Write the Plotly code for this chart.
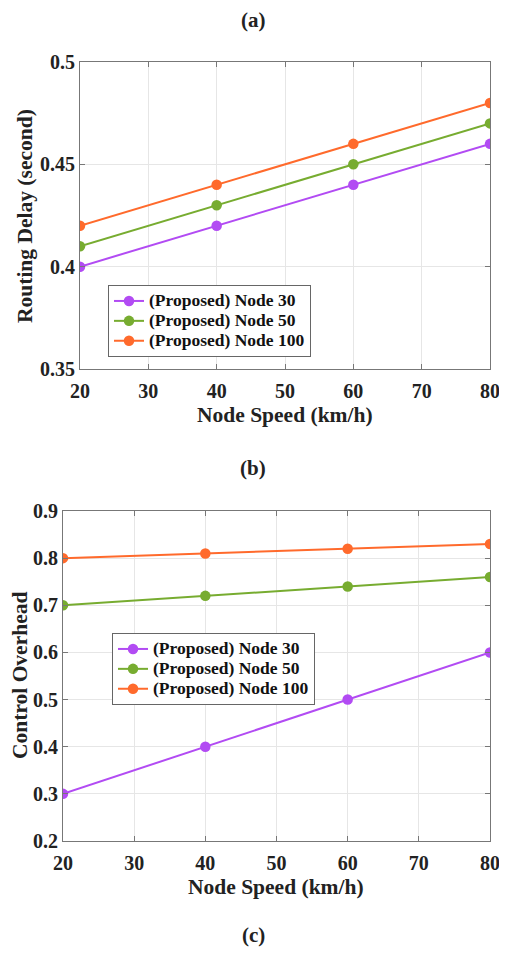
import plotly.graph_objects as go

speed = [20, 40, 60, 80]
series_names = ["(Proposed) Node 30", "(Proposed) Node 50", "(Proposed) Node 100"]
delay_node30 = [0.40, 0.42, 0.44, 0.46]
delay_node50 = [0.41, 0.43, 0.45, 0.47]
delay_node100 = [0.42, 0.44, 0.46, 0.48]
overhead_node30 = [0.30, 0.40, 0.50, 0.60]
overhead_node50 = [0.70, 0.72, 0.74, 0.76]
overhead_node100 = [0.80, 0.81, 0.82, 0.83]
x_ticks = [20, 30, 40, 50, 60, 70, 80]
delay_ticks = [0.35, 0.4, 0.45, 0.5]
overhead_ticks = [0.2, 0.3, 0.4, 0.5, 0.6, 0.7, 0.8, 0.9]

colors = ["#B24BF3", "#77AC30", "#FF6A2C"]
FONT = "Times New Roman, Liberation Serif, serif"
# page body has an 8px margin, so the figure is 16px smaller than the window
OFF = 8
W, H = 507 - 2 * OFF, 955 - 2 * OFF


def legend_label(name):
    return '<span style="font-size:17.5px">' + name + '</span>'


fig = go.Figure()
for vals, name, c in zip([delay_node30, delay_node50, delay_node100], series_names, colors):
    fig.add_trace(go.Scatter(x=speed, y=vals, name=legend_label(name), mode="lines+markers",
                             line=dict(color=c, width=2), marker=dict(color=c, size=10.5),
                             xaxis="x", yaxis="y", legend="legend"))
for vals, name, c in zip([overhead_node30, overhead_node50, overhead_node100], series_names, colors):
    fig.add_trace(go.Scatter(x=speed, y=vals, name=legend_label(name), mode="lines+markers",
                             line=dict(color=c, width=2), marker=dict(color=c, size=10.5),
                             xaxis="x2", yaxis="y2", legend="legend2"))

def px_x(p):
    return (p - OFF) / W

def px_y(p):
    return 1 - (p - OFF) / H

axis_common = dict(showline=True, linecolor="#777777", linewidth=1, mirror="ticks",
                   ticks="inside", ticklen=5, tickcolor="#777777", automargin=False,
                   showgrid=True, gridcolor="#e6e6e6", gridwidth=1, zeroline=False,
                   ticklabeloverflow="allow",
                   tickfont=dict(family=FONT, size=20, color="#222222", weight="bold"))
legend_common = dict(xanchor="left", yanchor="top",
                     bgcolor="white", bordercolor="#666666", borderwidth=1,
                     font=dict(family=FONT, size=13, color="#111111", weight="bold"),
                     tracegroupgap=0, itemwidth=30)

fig.update_layout(
    template="none",
    width=W, height=H, autosize=False,
    margin=dict(l=0, r=0, t=0, b=0),
    paper_bgcolor="white", plot_bgcolor="white",
    xaxis=dict(domain=[px_x(80), px_x(490)], range=[20, 80], tickvals=x_ticks, anchor="y",
               ticklabelstandoff=4, **axis_common),
    yaxis=dict(domain=[px_y(369), px_y(62)], range=[0.35, 0.5], tickvals=delay_ticks, anchor="x",
               **axis_common),
    xaxis2=dict(domain=[px_x(63), px_x(490)], range=[20, 80], tickvals=x_ticks, anchor="y2",
                ticklabelstandoff=4, **axis_common),
    yaxis2=dict(domain=[px_y(841), px_y(511)], range=[0.2, 0.9], tickvals=overhead_ticks, anchor="x2",
                tickformat=".1f", **axis_common),
    legend=dict(x=px_x(108), y=px_y(285), **legend_common),
    legend2=dict(x=px_x(112), y=px_y(633), **legend_common),
    showlegend=True,
)

texts = [
    ("(a)", 253, 20, 0, 21),
    ("(b)", 253, 468, 0, 21),
    ("(c)", 253, 935, 0, 21),
    ("Node Speed (km/h)", 285, 415, 0, 21.5),
    ("Node Speed (km/h)", 276, 887, 0, 21.5),
    ("Routing Delay (second)", 25, 216, -90, 21.5),
    ("Control Overhead", 20, 676, -90, 21.5),
]
for text, xp, yp, ang, size in texts:
    fig.add_annotation(text=text, x=px_x(xp), y=px_y(yp), xref="paper", yref="paper",
                       xanchor="center", yanchor="middle", showarrow=False, textangle=ang,
                       font=dict(family=FONT, size=size, color="#222222", weight="bold"))

fig.write_html("out.html")
